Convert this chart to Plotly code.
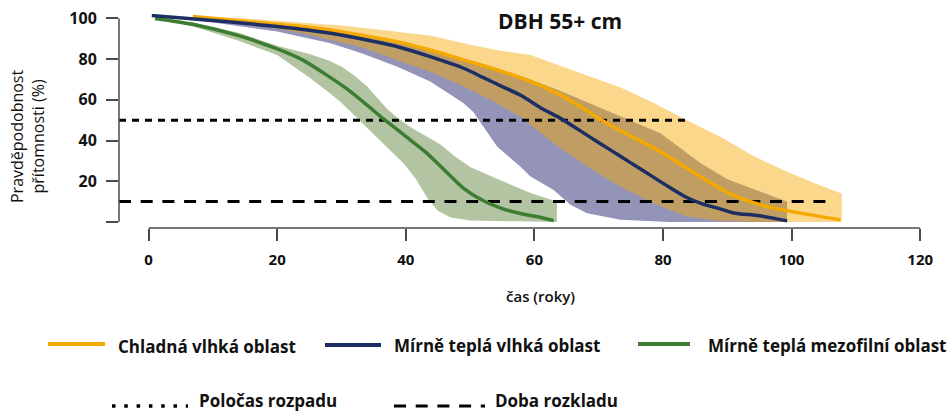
import plotly.graph_objects as go

# ---------------- data ----------------
# Chladná vlhká oblast (orange)
orange_x = [6.9, 15, 22, 28.3, 33, 38.6, 43.8, 49, 54.2, 59.4, 64, 67, 70.5, 73.4, 78.5, 83.7, 85.8, 88.9, 91, 96.2, 101.4, 107.6]
orange_y = [100.9, 98.6, 96.6, 94.3, 91.8, 88.6, 84.5, 79.6, 74.7, 69, 62.4, 57, 50, 44.8, 36.5, 26.5, 22.3, 16.5, 13, 7.5, 4.3, 1.0]
orange_up_x = [6.9, 15, 23.6, 30, 37, 44, 50, 55, 59.4, 63, 68.2, 73.4, 78.5, 83.7, 88.9, 94, 99, 104, 107.8]
orange_up_y = [101, 100, 98, 96.5, 94, 91.5, 87, 84, 82, 78, 72, 66, 58.5, 50, 41.9, 32.5, 25, 18.5, 14]
orange_lo_x = [6.9, 15, 25, 28.3, 33, 38.6, 44, 49, 54.2, 57.8, 63, 68.2, 73.4, 78.5, 83.7, 88.9, 95, 100, 107.8]
orange_lo_y = [100.9, 98, 92, 89.4, 86, 79.6, 73.5, 66.5, 58.3, 51.7, 38.7, 27.2, 17.3, 9.2, 2.6, 0.5, 0, 0, 0]

# Mírně teplá vlhká oblast (navy)
navy_x = [0.5, 10, 20, 28.3, 33, 38.6, 43.8, 49, 52, 55, 58, 61, 64, 68, 71.8, 75, 78.5, 81, 83.7, 86, 89, 91, 95, 99.3]
navy_y = [101.4, 99, 96, 92.7, 90, 86.2, 81.2, 75.5, 71, 66.5, 62, 56, 51, 43, 35.4, 29, 22, 17, 12, 9, 6.3, 4.4, 3.0, 0.5]
navy_up_x = [0.5, 7, 15, 22, 28.3, 33, 38.6, 43.8, 49, 54.2, 59.4, 64, 70.3, 75, 79.6, 85.8, 90, 95, 99.3]
navy_up_y = [101.4, 100.6, 98.5, 96.5, 94.3, 91.8, 88.6, 84.5, 79.6, 75, 70, 64.5, 56, 49.5, 43.5, 29, 21, 15, 10]
navy_lo_x = [0.5, 10, 20, 28.3, 33, 38.6, 43.8, 49, 50.5, 54.2, 57.8, 59.4, 63, 65.6, 68.2, 73.4, 81, 90, 99.3]
navy_lo_y = [101.4, 98, 93.5, 87.8, 83, 76.3, 69, 58.3, 54, 37, 27.2, 22.3, 15.7, 8.4, 4.3, 1, 0, 0, 0]

# Mírně teplá mezofilní oblast (green)
green_x = [1, 7, 14, 20, 24, 28, 31, 34.5, 36, 38, 40, 43, 46, 49, 52, 55, 58, 60.5, 63]
green_y = [100, 97, 91.5, 85, 79.5, 71.5, 65, 56, 52, 47, 42, 34.5, 25.5, 16.5, 10.5, 6.5, 4, 2.5, 0.6]
green_up_x = [1, 7, 14, 20, 25, 28, 30, 32, 34, 36, 37.1, 39, 41, 43.8, 45.4, 47.5, 50, 54.7, 59.6, 63.5]
green_up_y = [100, 98, 93, 86.5, 82.5, 79.3, 76.3, 72, 66.5, 59.5, 55.5, 50.5, 46, 41, 38, 32.5, 27, 20.5, 14, 10]
green_lo_x = [1, 7, 14, 20, 25, 28.3, 30, 32.9, 36, 39.6, 41.5, 43.5, 45, 47, 50, 63.5]
green_lo_y = [100, 96, 89, 82, 71, 63, 58.5, 49.5, 40, 29, 21.5, 11, 5.5, 2.2, 0.7, 0]

# reference levels
halflife_level = 50
halflife_x = [-4.6, 83.6]
decay_level = 10
decay_x = [-4.6, 106]

x_ticks = [0, 20, 40, 60, 80, 100, 120]
y_ticks = [0, 20, 40, 60, 80, 100]
y_ticktext = ["", "20", "40", "60", "80", "100"]

series_names = ["Chladná vlhká oblast", "Mírně teplá vlhká oblast", "Mírně teplá mezofilní oblast"]
ref_names = ["Poločas rozpadu", "Doba rozkladu"]

# ---------------- style ----------------
C_ORANGE = "rgb(245,168,0)"
C_ORANGE_BAND = "rgba(245,168,0,0.46)"
C_NAVY = "rgb(28,46,100)"
C_NAVY_BAND = "rgb(147,148,184)"
C_GREEN = "rgb(60,125,50)"
C_GREEN_BAND = "rgb(178,196,161)"
FONT = "Open Sans"
AX = "#4a4a4a"

W, H = 949, 413
ML, MR, MT, MB = 119, 28, 14, 185
PW, PH = W - ML - MR, H - MT - MB


def px(xp):
    return (xp - ML) / PW


def py(yp):
    return (H - MB - yp) / PH


fig = go.Figure()


def band(ux, uy, lx, ly, color):
    fig.add_trace(go.Scatter(
        x=list(ux) + list(lx)[::-1], y=list(uy) + list(ly)[::-1],
        mode="lines", fill="toself", fillcolor=color,
        line=dict(width=0), hoverinfo="skip", showlegend=False))


band(navy_up_x, navy_up_y, navy_lo_x, navy_lo_y, C_NAVY_BAND)
band(green_up_x, green_up_y, green_lo_x, green_lo_y, C_GREEN_BAND)
band(orange_up_x, orange_up_y, orange_lo_x, orange_lo_y, C_ORANGE_BAND)

fig.add_trace(go.Scatter(x=halflife_x, y=[halflife_level] * 2, mode="lines",
                         line=dict(color="black", width=3, dash="7px,6px"), showlegend=False))
fig.add_trace(go.Scatter(x=decay_x, y=[decay_level] * 2, mode="lines",
                         line=dict(color="black", width=3, dash="12px,9.7px"), showlegend=False))

fig.add_trace(go.Scatter(x=green_x, y=green_y, mode="lines", line=dict(color=C_GREEN, width=3.5, shape="spline", smoothing=0.8), showlegend=False))
fig.add_trace(go.Scatter(x=orange_x, y=orange_y, mode="lines", line=dict(color=C_ORANGE, width=3.5, shape="spline", smoothing=0.8), showlegend=False))
fig.add_trace(go.Scatter(x=navy_x, y=navy_y, mode="lines", line=dict(color=C_NAVY, width=3.5, shape="spline", smoothing=0.8), showlegend=False))

shapes = [
    # detached axis lines
    dict(type="line", xref="x", yref="paper", x0=x_ticks[0], x1=x_ticks[-1], y0=0, y1=0,
         line=dict(color=AX, width=1.5)),
    dict(type="line", xref="paper", yref="y", x0=0, x1=0, y0=y_ticks[0], y1=y_ticks[-1],
         line=dict(color=AX, width=1.5)),
    # legend samples
    dict(type="line", xref="paper", yref="paper", x0=px(48), x1=px(105), y0=py(344), y1=py(344),
         line=dict(color=C_ORANGE, width=4)),
    dict(type="line", xref="paper", yref="paper", x0=px(325), x1=px(381), y0=py(345), y1=py(345),
         line=dict(color=C_NAVY, width=4)),
    dict(type="line", xref="paper", yref="paper", x0=px(638), x1=px(690), y0=py(344), y1=py(344),
         line=dict(color=C_GREEN, width=4)),
    dict(type="line", xref="paper", yref="paper", x0=px(112), x1=px(188), y0=py(406), y1=py(406),
         line=dict(color="black", width=3.5, dash="3.5px,8.8px")),
    dict(type="line", xref="paper", yref="paper", x0=px(394), x1=px(485), y0=py(406), y1=py(406),
         line=dict(color="black", width=3, dash="12px,9.7px")),
]

ann_font = dict(family=FONT, size=17, color="#111", weight="bold")
annotations = [
    dict(text="DBH 55+ cm", xref="paper", yref="paper", x=px(560), y=py(21), showarrow=False,
         xanchor="center", yanchor="middle", font=dict(family=FONT, size=21, color="#111", weight="bold")),
    dict(text="Pravděpodobnost<br>přítomnosti (%)", xref="paper", yref="paper", x=px(27), y=py(136),
         showarrow=False, textangle=-90, xanchor="center", yanchor="middle",
         font=dict(family=FONT, size=16, color="#111")),
    dict(text="čas (roky)", xref="paper", yref="paper", x=px(540), y=py(296), showarrow=False,
         xanchor="center", yanchor="middle", font=dict(family=FONT, size=15, color="#111", weight=600)),
    dict(text=series_names[0], xref="paper", yref="paper", x=px(116), y=py(346), showarrow=False,
         xanchor="left", yanchor="middle", font=ann_font),
    dict(text=series_names[1], xref="paper", yref="paper", x=px(392), y=py(345), showarrow=False,
         xanchor="left", yanchor="middle", font=ann_font),
    dict(text=series_names[2], xref="paper", yref="paper", x=px(706), y=py(345), showarrow=False,
         xanchor="left", yanchor="middle", font=ann_font),
    dict(text=ref_names[0], xref="paper", yref="paper", x=px(197), y=py(400), showarrow=False,
         xanchor="left", yanchor="middle", font=ann_font),
    dict(text=ref_names[1], xref="paper", yref="paper", x=px(493), y=py(400), showarrow=False,
         xanchor="left", yanchor="middle", font=ann_font),
]

fig.update_layout(
    width=W, height=H, margin=dict(l=ML, r=MR, t=MT, b=MB, pad=0, autoexpand=False),
    paper_bgcolor="white", plot_bgcolor="white", showlegend=False,
    shapes=shapes, annotations=annotations,
    xaxis=dict(range=[-4.6, -4.6 + PW / 6.43], showgrid=False, zeroline=False, showline=False,
               tickvals=x_ticks, ticks="outside", ticklen=12, tickwidth=1.5, tickcolor=AX,
               ticklabelstandoff=6, automargin=False,
               tickfont=dict(family=FONT, size=15, color="#111", weight="bold")),
    yaxis=dict(range=[-3, -3 + PH / 2.035], showgrid=False, zeroline=False, showline=False,
               tickvals=y_ticks, ticktext=y_ticktext, ticks="outside", ticklen=12, tickwidth=1.5,
               tickcolor=AX, ticklabelstandoff=6, automargin=False,
               tickfont=dict(family=FONT, size=16, color="#111", weight="bold")),
)

fig.write_html("out.html", config={"displayModeBar": False},
               post_script="document.body.style.margin='0';document.body.style.overflow='hidden';")
